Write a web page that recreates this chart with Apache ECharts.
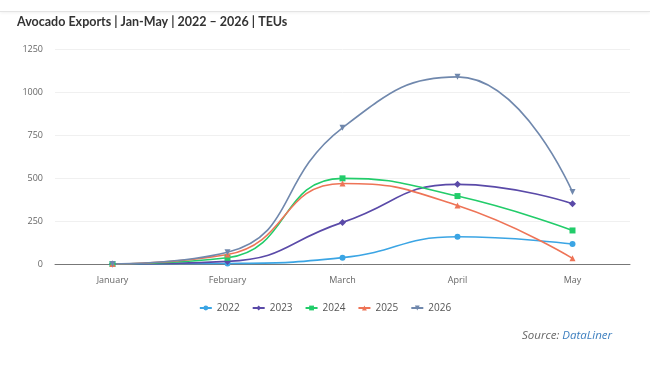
<!DOCTYPE html>
<html>
<head>
<meta charset="utf-8">
<script src="https://cdn.jsdelivr.net/npm/echarts@6/dist/echarts.min.js"></script>
<style>
    html, body { margin: 0; padding: 0; background: #fff; }
    .chart-box {
        position: relative;
        width: 650px;
        height: 365px;
        overflow: hidden;
    }
    .top-bar {
        position: absolute;
        left: 0; top: 0;
        width: 650px; height: 11px;
        border-bottom: 1px solid #e4e4e4;
        box-shadow: 0 1px 3px rgba(0,0,0,0.06);
    }
    .exports-chart {
        position: absolute;
        left: 0; top: 0;
        width: 650px;
        height: 365px;
    }
</style>
</head>
<body>
<div class="chart-box">
    <div class="top-bar"></div>
    <div class="exports-chart"></div>
</div>
<script>
let months = ['January', 'February', 'March', 'April', 'May'];
let years = ['2022', '2023', '2024', '2025', '2026'];
let v2022 = [0, 3, 37, 158, 116];
let v2023 = [0, 15, 242, 463, 350];
let v2024 = [0, 36, 498, 395, 195];
let v2025 = [0, 55, 468, 340, 33];
let v2026 = [0, 68, 792, 1088, 418];
let yTicks = [0, 250, 500, 750, 1000, 1250];

let colors = ['#3ba5e4', '#5a4aa8', '#22cc6a', '#ee7457', '#7088ad'];
let symbols = ['circle', 'diamond', 'rect', 'triangle', 'path://M0,0 L10,0 L5,9 Z'];
let seriesData = [v2022, v2023, v2024, v2025, v2026];

let chart = echarts.init(document.querySelector('.chart-box .exports-chart'));
let option = {
    textStyle: { fontFamily: 'Open Sans' },
    title: {
        text: 'Avocado Exports | Jan-May | 2022 \u2013 2026 | TEUs',
        left: 12,
        top: 10,
        textStyle: {
            fontFamily: 'Lato',
            fontSize: 12.5,
            fontWeight: 'bold',
            color: '#333'
        }
    },
    color: colors,
    legend: {
        top: 298,
        left: 'center',
        itemWidth: 12,
        itemHeight: 6,
        itemGap: 12,
        textStyle: { color: '#555', fontSize: 10 },
        data: years
    },
    grid: {
        left: 55,
        right: 20,
        top: 49,
        bottom: 101
    },
    xAxis: {
        type: 'category',
        data: months,
        boundaryGap: true,
        axisLine: { lineStyle: { color: '#777' } },
        axisTick: { show: false },
        axisLabel: { color: '#666', fontSize: 9, margin: 12 }
    },
    yAxis: {
        type: 'value',
        min: yTicks[0],
        max: yTicks[yTicks.length - 1],
        interval: 250,
        axisLine: { show: false },
        axisTick: { show: false },
        axisLabel: {
            color: '#666',
            fontSize: 9,
            margin: 12,
            formatter: function(value){
                return String(value);
            }
        },
        splitLine: { lineStyle: { color: '#f0f0f0' } }
    },
    series: years.map(function(y, i){
        return {
            name: y,
            type: 'line',
            smooth: true,
            data: seriesData[i],
            symbol: symbols[i],
            symbolSize: i == 1 ? 7 : 6,
            showSymbol: true,
            lineStyle: { width: 1.6, color: colors[i] },
            itemStyle: { color: colors[i] }
        };
    }),
    graphic: [
        {
            type: 'text',
            left: 522,
            top: 330,
            style: {
                text: '{a|Source: }{b|DataLiner}',
                rich: {
                    a: { fontFamily: 'Open Sans', fontStyle: 'italic', fontSize: 11.5, fill: '#666' },
                    b: { fontFamily: 'Open Sans', fontStyle: 'italic', fontSize: 11.5, fill: '#3d7fbf' }
                }
            }
        }
    ]
};
chart.setOption(option);
</script>
</body>
</html>
